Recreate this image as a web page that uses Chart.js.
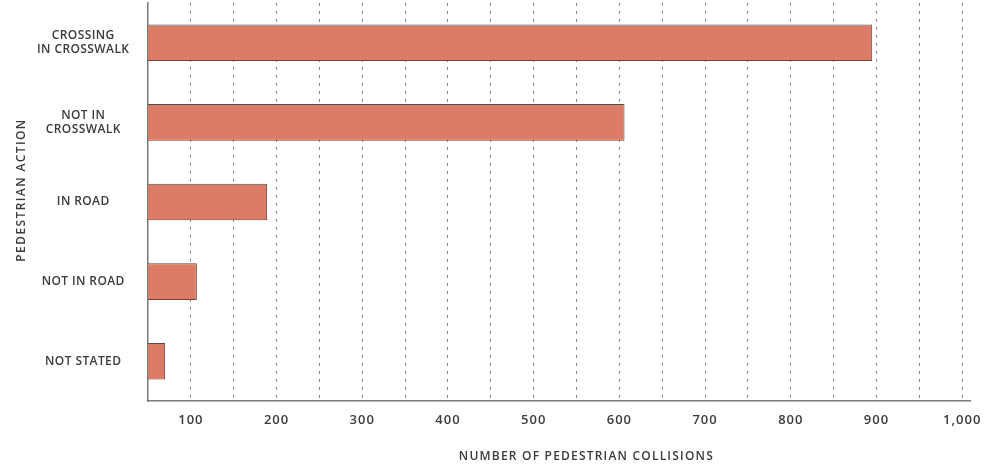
<!DOCTYPE html>
<html>
<head>
<meta charset="utf-8">
<script src="https://cdn.jsdelivr.net/npm/chart.js@4/dist/chart.umd.min.js"></script>
<style>
  html, body { margin: 0; padding: 0; background: #fff; }
  #wrap { width: 990px; height: 464px; position: relative; }
</style>
</head>
<body>
<div id="wrap"><canvas id="collisionsChart"></canvas></div>
<script>
const actions = [
  ['CROSSING', 'IN CROSSWALK'],
  ['NOT IN', 'CROSSWALK'],
  'IN ROAD',
  'NOT IN ROAD',
  'NOT STATED'
];
const collisions = [895, 606, 189, 107, 70];
const xMin = 50;
const xMax = 1010;
const gridStep = 50;
const labelStep = 100;

const textColor = '#3b3b3b';
const font = { family: 'Open Sans', size: 12, weight: '600' };
const tickFont = { family: 'Open Sans', size: 13, weight: '600' };

// the printed chart uses a wide, letter-spaced face; titles sit a bit off-centre
const spacedText = {
  id: 'spacedText',
  beforeDraw(chart) {
    Object.values(chart.scales).forEach(scale => {
      if (scale._spaced) return;
      const isX = scale.axis === 'x';
      const drawTitle = scale.drawTitle.bind(scale);
      scale.drawTitle = function () {
        this.ctx.save();
        this.ctx.letterSpacing = isX ? '1.2px' : '1.4px';
        if (isX) this.ctx.translate(27, 0);
        else this.ctx.translate(0, -12);
        drawTitle();
        this.ctx.restore();
      };
      const drawLabels = scale.drawLabels.bind(scale);
      scale.drawLabels = function (area) {
        this.ctx.save();
        this.ctx.letterSpacing = isX ? '1px' : '0.4px';
        drawLabels(area);
        this.ctx.restore();
      };
      scale._spaced = true;
    });
  }
};

const ctx = document.getElementById('collisionsChart').getContext('2d');

new Chart(ctx, {
  type: 'bar',
  data: {
    labels: actions,
    datasets: [{
      data: collisions,
      backgroundColor: '#dc7c66',
      borderColor: '#5a4a46',
      borderWidth: 1,
      borderSkipped: false,
      categoryPercentage: 1,
      barPercentage: 0.46
    }]
  },
  options: {
    indexAxis: 'y',
    responsive: true,
    maintainAspectRatio: false,
    animation: false,
    layout: { padding: { top: 3, right: 15, bottom: 0, left: 0 } },
    plugins: {
      legend: { display: false },
      tooltip: { enabled: false }
    },
    scales: {
      x: {
        type: 'linear',
        min: xMin,
        max: xMax,
        afterBuildTicks: (scale) => {
          const ticks = [];
          for (let v = xMin; v <= 1000; v += gridStep) ticks.push({ value: v });
          scale.ticks = ticks;
        },
        ticks: {
          autoSkip: false,
          maxRotation: 0,
          padding: 11,
          color: textColor,
          font: tickFont,
          callback: (value) => value % labelStep === 0 ? value.toLocaleString('en-US') : ''
        },
        grid: {
          drawTicks: false,
          color: (c) => (c.tick && c.tick.value === xMin) ? 'rgba(0,0,0,0)' : '#8a8a8a',
          lineWidth: 1
        },
        border: { display: true, color: '#7a7a7a', width: 1.5, dash: [3, 5] },
        title: {
          display: true,
          text: 'NUMBER OF PEDESTRIAN COLLISIONS',
          color: textColor,
          font: font,
          padding: { top: 11, bottom: 0 }
        }
      },
      y: {
        afterFit: (scale) => {
          scale.width = 148;
          scale.paddingTop = 0;
          scale.paddingBottom = 0;
        },
        ticks: {
          padding: 21,
          crossAlign: 'center',
          color: textColor,
          font: font
        },
        grid: { display: false, drawTicks: false },
        border: { display: true, color: '#7a7a7a', width: 1.5 },
        title: {
          display: true,
          text: 'PEDESTRIAN ACTION',
          color: textColor,
          font: font,
          padding: { top: 14, bottom: 0 }
        }
      }
    }
  },
  plugins: [spacedText]
});
</script>
</body>
</html>
